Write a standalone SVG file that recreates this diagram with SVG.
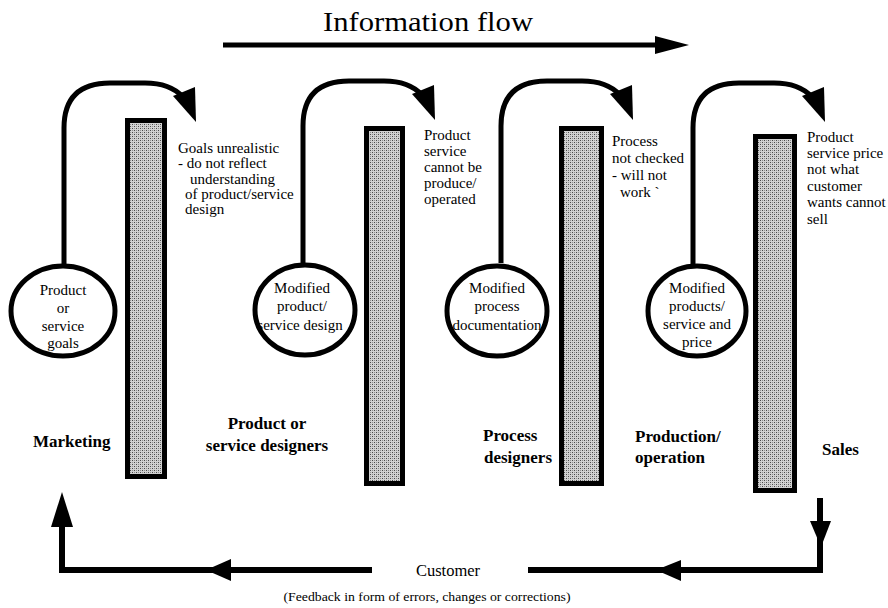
<svg xmlns="http://www.w3.org/2000/svg" xmlns:xlink="http://www.w3.org/1999/xlink" width="888" height="608" viewBox="0 0 888 608">
  <style>
    .txt { font-family: "Liberation Serif", "Times New Roman", serif; fill: #000; }
    .note { font-size: 15px; }
    .ctext { font-size: 15px; text-anchor: middle; }
    .dept { font-size: 17px; font-weight: bold; }
    .line { fill: none; stroke: #000; stroke-width: 5; }
    .fat { fill: none; stroke: #000; stroke-width: 6; }
    .bar { fill: url(#stipple); stroke: #000; stroke-width: 5; }
    .node { fill: #fff; stroke: #000; stroke-width: 5; }
    .head { fill: #000; }
  </style>
  <defs>
    <!-- dotted screen used inside the vertical walls -->
    <pattern id="stipple" width="4" height="4" patternUnits="userSpaceOnUse">
      <rect width="4" height="4" fill="#d2d2d2"/>
      <rect x="0" y="0" width="1" height="1" fill="#4a4a4a"/>
      <rect x="2" y="2" width="1" height="1" fill="#4a4a4a"/>
      <rect x="2" y="0" width="1" height="1" fill="#909090"/>
      <rect x="0" y="2" width="1" height="1" fill="#909090"/>
    </pattern>
    <!-- hand-over arrow thrown over a wall: rises from a circle, arcs right, points down -->
    <g id="throw">
      <path class="line" d="M 0 265 V 128 Q 0 83 46 83 H 81 Q 106 83 119 97"/>
      <polygon class="head" points="109,96 131,87 132,122"/>
    </g>
  </defs>

  <!-- title and flow direction -->
  <g id="title">
    <text class="txt" x="428" y="31" font-size="27" text-anchor="middle" textLength="210" lengthAdjust="spacingAndGlyphs">Information flow</text>
  </g>

  <g id="connectors">
    <!-- information flow arrow -->
    <line class="line" x1="223" y1="45" x2="662" y2="45"/>
    <polygon class="head" points="655,36 689,45 655,54"/>

    <!-- throws over each wall -->
    <use xlink:href="#throw" transform="translate(64,0)"/>
    <use xlink:href="#throw" transform="translate(303,-2)"/>
    <use xlink:href="#throw" transform="translate(501,-2)"/>
    <use xlink:href="#throw" transform="translate(693,0)"/>

    <!-- customer feedback loop -->
    <polyline class="fat" points="820,498 820,570 528,570"/>
    <polygon class="head" points="810,521 831,521 821,547"/>
    <polygon class="head" points="681,560 681,581 656,570"/>
    <polyline class="fat" points="372,570 62,570 62,510"/>
    <polygon class="head" points="231,559 231,581 206,570"/>
    <polygon class="head" points="51,527 73,527 62,492"/>
  </g>

  <!-- walls between departments -->
  <g id="wall-1"><rect class="bar" x="127.5" y="120.5" width="37" height="356"/></g>
  <g id="wall-2"><rect class="bar" x="366.5" y="128.5" width="36" height="355"/></g>
  <g id="wall-3"><rect class="bar" x="561.5" y="128.5" width="40" height="355"/></g>
  <g id="wall-4"><rect class="bar" x="755.5" y="136.5" width="39" height="354"/></g>

  <!-- department outputs -->
  <g id="node-goals">
    <ellipse class="node" cx="63" cy="311" rx="52" ry="45"/>
    <text class="txt ctext" x="63" y="295">Product</text>
    <text class="txt ctext" x="63" y="313">or</text>
    <text class="txt ctext" x="63" y="331">service</text>
    <text class="txt ctext" x="63" y="348">goals</text>
  </g>
  <g id="node-design">
    <ellipse class="node" cx="305" cy="310" rx="50" ry="45"/>
    <text class="txt ctext" x="302" y="293">Modified</text>
    <text class="txt ctext" x="302" y="311">product/</text>
    <text class="txt ctext" x="300" y="330">service design</text>
  </g>
  <g id="node-process">
    <ellipse class="node" cx="497" cy="311" rx="50" ry="45"/>
    <text class="txt ctext" x="497" y="293">Modified</text>
    <text class="txt ctext" x="497" y="311">process</text>
    <text class="txt ctext" x="497" y="330">documentation</text>
  </g>
  <g id="node-products">
    <ellipse class="node" cx="697" cy="311" rx="49" ry="45"/>
    <text class="txt ctext" x="697" y="293">Modified</text>
    <text class="txt ctext" x="697" y="311">products/</text>
    <text class="txt ctext" x="697" y="329">service and</text>
    <text class="txt ctext" x="697" y="347">price</text>
  </g>

  <!-- problems met on the far side of each wall -->
  <g id="note-1" class="txt note">
    <text x="178" y="153">Goals unrealistic</text>
    <text x="178" y="168">- do not reflect</text>
    <text x="190" y="184">understanding</text>
    <text x="185" y="199">of product/service</text>
    <text x="185" y="214">design</text>
  </g>
  <g id="note-2" class="txt note">
    <text x="424" y="140">Product</text>
    <text x="424" y="156">service</text>
    <text x="424" y="172">cannot be</text>
    <text x="424" y="188">produce/</text>
    <text x="424" y="204">operated</text>
  </g>
  <g id="note-3" class="txt note">
    <text x="612" y="146">Process</text>
    <text x="612" y="163">not checked</text>
    <text x="612" y="180">- will not</text>
    <text x="620" y="197">work `</text>
  </g>
  <g id="note-4" class="txt note">
    <text x="807" y="142">Product</text>
    <text x="807" y="158">service price</text>
    <text x="807" y="174">not  what</text>
    <text x="807" y="191">customer</text>
    <text x="807" y="207">wants cannot</text>
    <text x="807" y="224">sell</text>
  </g>

  <!-- departments -->
  <g id="dept-marketing"><text class="txt dept" x="33" y="447">Marketing</text></g>
  <g id="dept-designers">
    <text class="txt dept" x="267" y="429" text-anchor="middle">Product or</text>
    <text class="txt dept" x="267" y="451" text-anchor="middle">service designers</text>
  </g>
  <g id="dept-process">
    <text class="txt dept" x="483" y="441">Process</text>
    <text class="txt dept" x="484" y="463">designers</text>
  </g>
  <g id="dept-production">
    <text class="txt dept" x="635" y="442">Production/</text>
    <text class="txt dept" x="635" y="463">operation</text>
  </g>
  <g id="dept-sales"><text class="txt dept" x="822" y="455">Sales</text></g>

  <!-- customer -->
  <g id="customer">
    <text class="txt" x="448" y="576" font-size="16.5" text-anchor="middle">Customer</text>
    <text class="txt" x="427" y="601" font-size="13.5" text-anchor="middle" textLength="287" lengthAdjust="spacingAndGlyphs">(Feedback in form of errors, changes or corrections)</text>
  </g>
</svg>
